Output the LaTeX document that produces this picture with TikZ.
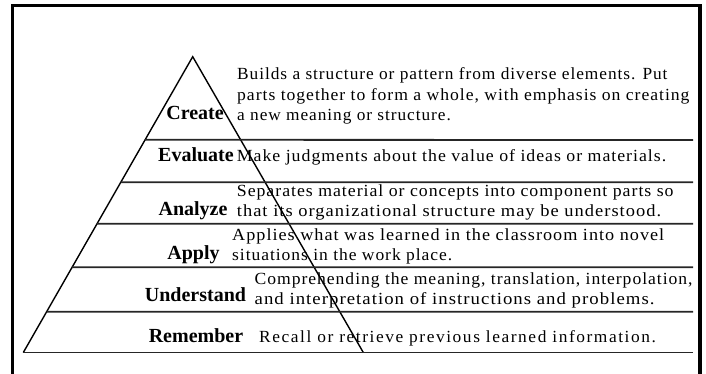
\documentclass[tikz,border=0pt]{standalone}
\usepackage{fontspec}
\usepackage{graphicx}
\usetikzlibrary{calc}
\setmainfont{Liberation Serif}
\newfontfamily\descfont[LetterSpace=5.5]{Liberation Serif}
\newfontfamily\descwidefont[LetterSpace=9]{Liberation Serif}
\newcommand{\fitw}[2]{\resizebox{#1pt}{\height}{#2}}
\begin{document}
\begin{tikzpicture}[x=1pt,y=-1pt,
  lbl/.style={anchor=base,inner sep=0pt,font=\bfseries\fontsize{20}{24}\selectfont},
  desc/.style={anchor=base west,inner sep=0pt,font=\descfont\fontsize{17}{20}\selectfont},
  descwide/.style={desc,font=\descwidefont\fontsize{17}{20}\selectfont},
  side/.style={line width=1.4pt},
  rulel/.style={line width=1.8pt,black!85},
  frame/.style={line width=3.3pt}]
\useasboundingbox (0,0) rectangle (706,374);
% frame
\draw[frame] (12.5,390) -- (12.5,5.7) -- (700,5.7) -- (700,390);
% pyramid
\coordinate (apex) at (192.7,56.7);
\coordinate (bl) at (23.3,352.5);
\coordinate (br) at (363.3,352.5);
\draw[side] (bl) -- (apex) -- (br);
% horizontal rules
\coordinate (l1) at ($(apex)!0.2809!(bl)$);
\coordinate (l2) at ($(apex)!0.4246!(bl)$);
\coordinate (l3) at ($(apex)!0.5646!(bl)$);
\coordinate (l4) at ($(apex)!0.7120!(bl)$);
\coordinate (l5) at ($(apex)!0.8620!(bl)$);
\coordinate (r1) at (693,140);
\coordinate (r2) at (693,182.3);
\coordinate (r3) at (693,223.7);
\coordinate (r4) at (693,267.3);
\coordinate (r5) at (693,311.7);
\coordinate (r6) at (693,352.5);
\draw[rulel] (l1) -- (r1);
\draw[rulel] (l2) -- (r2);
\draw[rulel] (l3) -- (r3);
\draw[rulel] (l4) -- (r4);
\draw[rulel] (l5) -- (r5);
\draw[rulel] (bl) -- (r6);
% labels
\node[lbl] (create) at (195,120) {Create};
\node[lbl] (evaluate) at (196,161) {Evaluate};
\node[lbl] (analyze) at (193,215) {Analyze};
\node[lbl] (apply) at (193.5,259) {Apply};
\node[lbl] (understand) at (195.5,301.7) {Understand};
\node[lbl] (remember) at (196,342) {Remember};
% descriptions
\node[desc] (c1) at (237,80) {\fitw{430.3}{Builds a structure or pattern from diverse elements. Put}};
\node[desc] (c2) at (237,100.2) {\fitw{452.3}{parts together to form a whole, with emphasis on creating}};
\node[desc] (c3) at (237,120.5) {\fitw{213.7}{a new meaning or structure.}};
\node[desc] (e1) at (236.7,161) {\fitw{429.3}{Make judgments about the value of ideas or materials.}};
\node[desc] (a1) at (236.7,196.7) {\fitw{436.6}{Separates material or concepts into component parts so}};
\node[desc] (a2) at (236.7,216.7) {\fitw{424.3}{that its organizational structure may be understood.}};
\node[desc] (p1) at (232,240) {\fitw{432}{Applies what was learned in the classroom into novel}};
\node[desc] (p2) at (232,260) {\scalebox{1.03}[1]{situations in the work place.}};
\node[desc] (u1) at (254.5,284) {\fitw{437.8}{Comprehending the meaning, translation, interpolation,}};
\node[desc] (u2) at (254.5,304) {\fitw{399.8}{and interpretation of instructions and problems.}};
\node[descwide] (m1) at (259,342) {\fitw{396.7}{Recall or retrieve previous learned information.}};
\end{tikzpicture}
\end{document}
